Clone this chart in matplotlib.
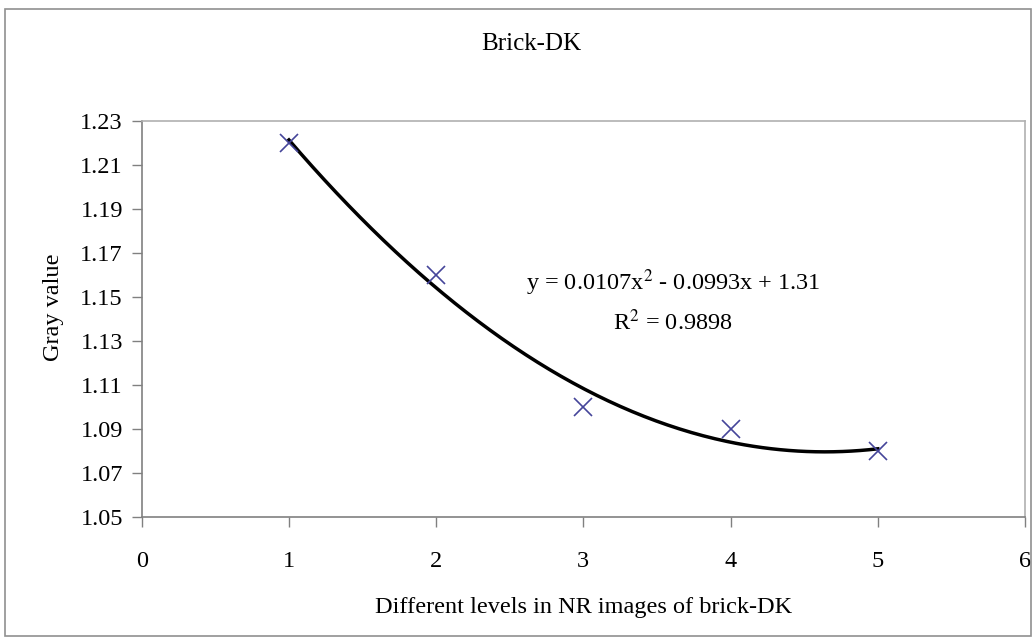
import matplotlib
matplotlib.use("Agg")
import matplotlib.pyplot as plt
import numpy as np
from matplotlib.patches import Rectangle

# data
levels = [1, 2, 3, 4, 5]
grayValues = [1.22, 1.16, 1.10, 1.09, 1.08]
# trendline coefficients as printed on the chart
a2, a1, a0 = 0.0107, -0.0993, 1.31
r2 = 0.9898
xTicks = [0, 1, 2, 3, 4, 5, 6]
yTicks = [1.05, 1.07, 1.09, 1.11, 1.13, 1.15, 1.17, 1.19, 1.21, 1.23]

plt.rcParams['font.family'] = ['Liberation Serif', 'DejaVu Serif']

fig = plt.figure(figsize=(10.34, 6.41), dpi=100)
ax = fig.add_axes([141.7/1034, 1-517/641, 883.3/1034, 396/641])

# outer chart frame
fig.patches.append(Rectangle((5/1034, 5/641), 1026/1034, 627/641,
                             transform=fig.transFigure, fill=False,
                             edgecolor="#909090", linewidth=1.2))

# trendline
xFit = np.linspace(levels[0], levels[-1], 200)
yFit = a2*xFit**2 + a1*xFit + a0
ax.plot(xFit, yFit, color="black", linewidth=2.5, zorder=2)

# data points
ax.plot(levels, grayValues, linestyle="none", marker="x", markersize=13,
        markeredgewidth=1.2, color="#45459a", zorder=3)

ax.set_xlim(0, 6)
ax.set_ylim(1.05, 1.23)
ax.set_xticks(xTicks)
ax.set_yticks(yTicks)
ax.set_yticklabels(["%.2f" % v for v in yTicks])
ax.tick_params(axis="both", labelsize=17.5, direction="out", length=7.5,
               color="#808080", width=1.0)
ax.tick_params(axis="y", pad=6)
ax.tick_params(axis="x", pad=17)

for s in ["left", "bottom"]:
    ax.spines[s].set_color("#808080")
    ax.spines[s].set_linewidth(1.2)
for s in ["top", "right"]:
    ax.spines[s].set_color("#b0b0b0")
    ax.spines[s].set_linewidth(1.2)

ax.set_xlabel("Different levels in NR images of brick-DK", fontsize=17.5, labelpad=18)
ax.set_ylabel("Gray value", fontsize=17.5)
ax.yaxis.set_label_coords(-78/883.3, 0.53)
fig.text(531/1034, 1-44/641, "Brick-DK", fontsize=18, ha="center", va="center")

ax.text(3.61, 1.1532, "y = 0.0107x$^{2}$ - 0.0993x + 1.31", fontsize=17.5,
        ha="center", va="baseline", math_fontfamily="stix")
ax.text(3.61, 1.135, "R$^{2}$ = %.4f" % r2, fontsize=17.5, ha="center",
        va="baseline", math_fontfamily="stix")

fig.savefig("out.png", dpi=100)
